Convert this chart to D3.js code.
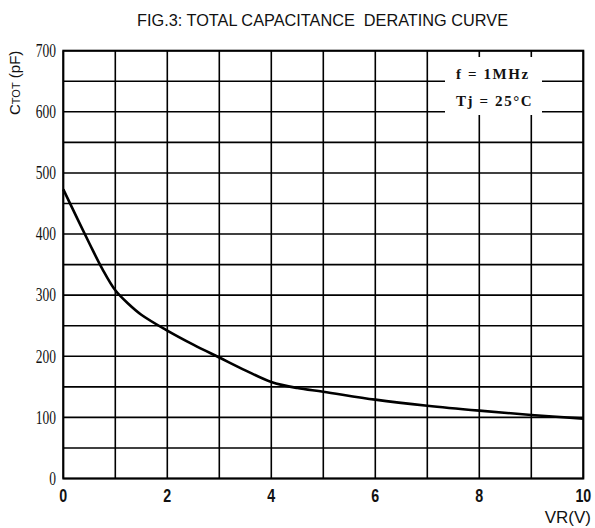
<!doctype html>
<meta charset=utf8>
<title>Total capacitance derating curve</title>
<style>
  body { margin: 0; background: white; }
  svg { display: block; }
  .grid line { stroke: #000; stroke-width: 1.6; }
  .frame { fill: none; stroke: #000; stroke-width: 2; }
  .curve { fill: none; stroke: #000; stroke-width: 2.6; }
  .title { font-family: "Liberation Sans", Arial, sans-serif; font-size: 16.5px; fill: #111; }
  .ylab { font-family: "Liberation Serif", "Times New Roman", serif; font-size: 18px; fill: #111; }
  .xlab { font-family: "Liberation Sans", Arial, sans-serif; font-size: 19px; font-weight: bold; fill: #111; }
  .axtitle { font-family: "Liberation Sans", Arial, sans-serif; fill: #111; }
  .note { font-family: "Liberation Serif", "Times New Roman", serif; font-size: 15px; font-weight: bold; letter-spacing: 1.6px; fill: #111; }
</style>
<svg width=595 height=528></svg>
<script src=https://d3js.org/d3.v7.min.js></script>
<script>
  // values
  var vr = [0, 0.5, 0.75, 1, 1.25, 1.5, 2, 2.5, 3, 3.5, 4, 4.5, 5, 6, 7, 8, 9, 10];
  var ctot = [473, 385, 343, 308, 286, 268, 242, 219, 198, 177, 158, 148, 142, 129, 119, 111, 104, 98];
  var xLabels = [0, 2, 4, 6, 8, 10];
  var yLabels = [0, 100, 200, 300, 400, 500, 600, 700];
  var notes = ['f = 1MHz', 'Tj = 25°C'];

  var svg = d3.select('svg');
  var x = d3.scaleLinear().domain([0, 10]).range([63.3, 583.3]);
  var y = d3.scaleLinear().domain([0, 700]).range([478.5, 50.7]);

  var points = vr.map(function(v, i) { return { v: v, c: ctot[i] }; });

  svg.append('text')
    .attr('class', 'title')
    .attr('x', 137)
    .attr('y', 26)
    .attr('textLength', 371)
    .attr('lengthAdjust', 'spacingAndGlyphs')
    .attr('xml:space', 'preserve')
    .text('FIG.3: TOTAL CAPACITANCE  DERATING CURVE');

  var grid = svg.append('g').attr('class', 'grid');

  grid.selectAll('.v')
    .data(x.ticks(10))
    .enter().append('line')
    .attr('x1', x).attr('x2', x)
    .attr('y1', y(0)).attr('y2', y(700));

  grid.selectAll('.h')
    .data(y.ticks(14))
    .enter().append('line')
    .attr('x1', x(0)).attr('x2', x(10))
    .attr('y1', y).attr('y2', y);

  svg.append('rect')
    .attr('class', 'frame')
    .attr('x', x(0)).attr('y', y(700))
    .attr('width', x(10) - x(0)).attr('height', y(0) - y(700));

  // white patch behind the test conditions
  svg.append('rect')
    .attr('x', 445).attr('y', 57)
    .attr('width', 97).attr('height', 58)
    .attr('fill', 'white');

  svg.selectAll('.note')
    .data(notes)
    .enter().append('text')
    .attr('class', 'note')
    .attr('x', 456)
    .attr('y', function(d, i) { return 79 + i * 26.5; })
    .attr('xml:space', 'preserve')
    .text(function(d) { return d; });

  var line = d3.line()
    .curve(d3.curveCatmullRom.alpha(0.5))
    .x(function(d) { return x(d.v); })
    .y(function(d) { return y(d.c); });

  svg.append('path')
    .attr('class', 'curve')
    .attr('d', line(points));

  svg.selectAll('.ylab')
    .data(yLabels)
    .enter().append('text')
    .attr('class', 'ylab')
    .attr('transform', function(d) { return 'translate(56,' + y(d) + ') scale(0.75,1)'; })
    .attr('text-anchor', 'end')
    .attr('dy', '0.35em')
    .text(function(d) { return d; });

  svg.selectAll('.xlab')
    .data(xLabels)
    .enter().append('text')
    .attr('class', 'xlab')
    .attr('transform', function(d) { return 'translate(' + x(d) + ',502) scale(0.75,1)'; })
    .attr('text-anchor', 'middle')
    .text(function(d) { return d; });

  svg.append('text')
    .attr('class', 'axtitle')
    .attr('x', 591)
    .attr('y', 523)
    .attr('text-anchor', 'end')
    .style('font-size', '17px')
    .text('VR(V)');

  var yt = svg.append('text')
    .attr('class', 'axtitle')
    .attr('transform', 'translate(20,115) rotate(-90)')
    .attr('xml:space', 'preserve')
    .style('font-size', '15px');
  yt.append('tspan').text('C');
  yt.append('tspan').style('font-size', '11px').text('TOT');
  yt.append('tspan').text(' (pF)');
</script>
